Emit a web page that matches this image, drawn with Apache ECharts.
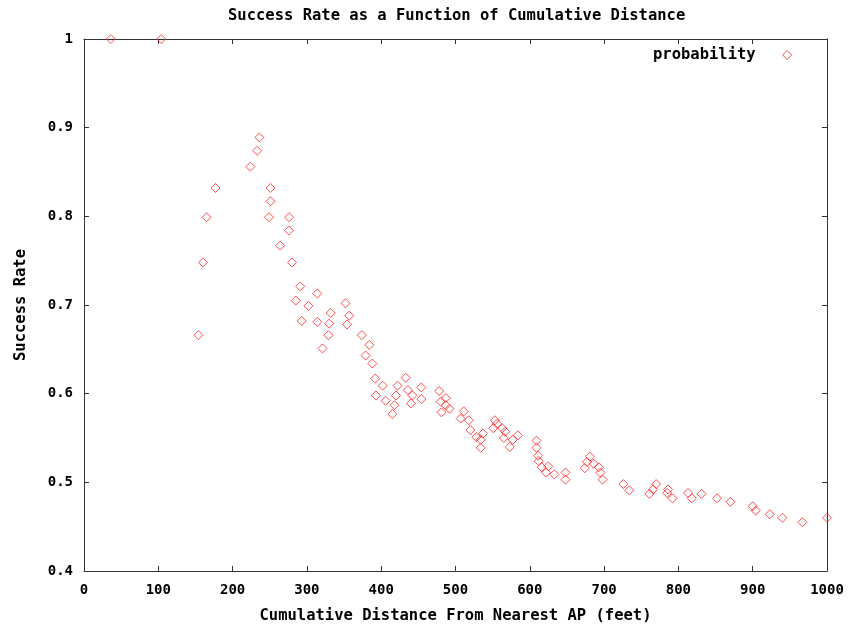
<!DOCTYPE html>
<html>
<head>
<meta charset="utf-8">
<script src="https://cdn.jsdelivr.net/npm/echarts@6/dist/echarts.min.js"></script>
<style>
  html, body { margin: 0; padding: 0; background: #fff; }
  #chart { width: 854px; height: 629px; }
</style>
</head>
<body>
<div id="chart"></div>
<script>
// cumulative distance (feet) and matching success rate
const distances = [
  36, 104, 154, 160, 165, 177, 224, 233, 236, 251,
  251, 249, 276, 276, 264, 280, 291, 314, 285, 302,
  352, 332, 357, 293, 314, 330, 354, 329, 374, 321,
  384, 379, 388, 392, 433, 402, 422, 454, 478, 393,
  420, 436, 442, 454, 406, 440, 418, 480, 487, 487,
  492, 481, 415, 511, 507, 518, 520, 528, 537, 534,
  534, 553, 556, 551, 563, 567, 565, 577, 573, 584,
  609, 609, 611, 612, 616, 625, 622, 633, 648, 648,
  681, 677, 686, 674, 693, 695, 698, 726, 734, 761,
  766, 770, 786, 785, 792, 813, 818, 831, 852, 870,
  900, 904, 923, 940, 967, 1000
];
const rates = [
  1.0, 1.0, 0.666, 0.748, 0.799, 0.832, 0.856, 0.874, 0.889, 0.832,
  0.817, 0.799, 0.799, 0.784, 0.767, 0.748, 0.721, 0.713, 0.705, 0.699,
  0.702, 0.691, 0.688, 0.682, 0.681, 0.679, 0.678, 0.666, 0.666, 0.651,
  0.655, 0.643, 0.634, 0.617, 0.618, 0.609, 0.609, 0.607, 0.603, 0.598,
  0.598, 0.604, 0.598, 0.594, 0.592, 0.589, 0.587, 0.591, 0.595, 0.587,
  0.583, 0.579, 0.577, 0.580, 0.572, 0.570, 0.559, 0.551, 0.555, 0.548,
  0.539, 0.570, 0.566, 0.561, 0.561, 0.557, 0.550, 0.548, 0.540, 0.553,
  0.547, 0.539, 0.530, 0.524, 0.517, 0.518, 0.511, 0.509, 0.511, 0.503,
  0.529, 0.523, 0.521, 0.516, 0.517, 0.511, 0.503, 0.498, 0.491, 0.487,
  0.492, 0.498, 0.492, 0.488, 0.482, 0.488, 0.482, 0.487, 0.482, 0.478,
  0.473, 0.468, 0.464, 0.460, 0.455, 0.460
];

const points = distances.map((d, i) => [d, rates[i]]);

const FONT = "DejaVu Sans Mono";
const INK = "#000";
const FRAME = "#333";
const RED = "#ff2020";

const chart = echarts.init(document.getElementById("chart"), null, { renderer: "canvas" });

const baseAxisLine = { show: true, onZero: false, lineStyle: { color: FRAME, width: 1 } };
const innerTick = { show: true, inside: true, length: 5, lineStyle: { color: FRAME, width: 1 } };
const textBold = { fontFamily: FONT, fontSize: 15.5, fontWeight: "bold", color: INK };
const tickText = { fontFamily: FONT, fontSize: 14, fontWeight: "bold", color: INK };

chart.setOption({
  animation: false,
  backgroundColor: "#fff",
  title: {
    text: "Success Rate as a Function of Cumulative Distance",
    left: 223,
    top: 3,
    textStyle: textBold
  },
  legend: {
    data: [{ name: "probability", itemStyle: { color: "rgba(255,255,255,0)", borderColor: RED, borderWidth: 1 } }],
    left: 648,
    top: 42,
    align: "right",
    itemWidth: 9,
    itemHeight: 9,
    textStyle: Object.assign({}, textBold, { padding: [0, 22, 0, 0] })
  },
  grid: { left: 84, top: 39, width: 743, height: 536, containLabel: false },
  xAxis: [
    {
      type: "value",
      min: 0, max: 1000, interval: 100,
      name: "Cumulative Distance From Nearest AP (feet)",
      nameLocation: "middle",
      nameGap: 37,
      nameTextStyle: textBold,
      axisLine: baseAxisLine,
      axisTick: innerTick,
      axisLabel: Object.assign({ margin: 12, formatter: v => String(v) }, tickText),
      splitLine: { show: false }
    },
    {
      type: "value", position: "top",
      min: 0, max: 1000, interval: 100,
      axisLine: baseAxisLine,
      axisTick: innerTick,
      axisLabel: { show: false },
      splitLine: { show: false }
    }
  ],
  yAxis: [
    {
      type: "value",
      min: 0.4, max: 1, interval: 0.1,
      name: "Success Rate",
      nameLocation: "middle",
      nameGap: 55,
      nameTextStyle: textBold,
      axisLine: baseAxisLine,
      axisTick: innerTick,
      axisLabel: Object.assign({ margin: 11, formatter: v => String(Math.round(v * 10) / 10) }, tickText),
      splitLine: { show: false }
    },
    {
      type: "value", position: "right",
      min: 0.4, max: 1, interval: 0.1,
      axisLine: baseAxisLine,
      axisTick: innerTick,
      axisLabel: { show: false },
      splitLine: { show: false }
    }
  ],
  series: [
    {
      name: "probability",
      type: "scatter",
      symbol: "diamond",
      symbolSize: 9,
      clip: false,
      itemStyle: { color: "rgba(255,255,255,0)", borderColor: RED, borderWidth: 1 },
      data: points
    }
  ]
});
</script>
</body>
</html>
